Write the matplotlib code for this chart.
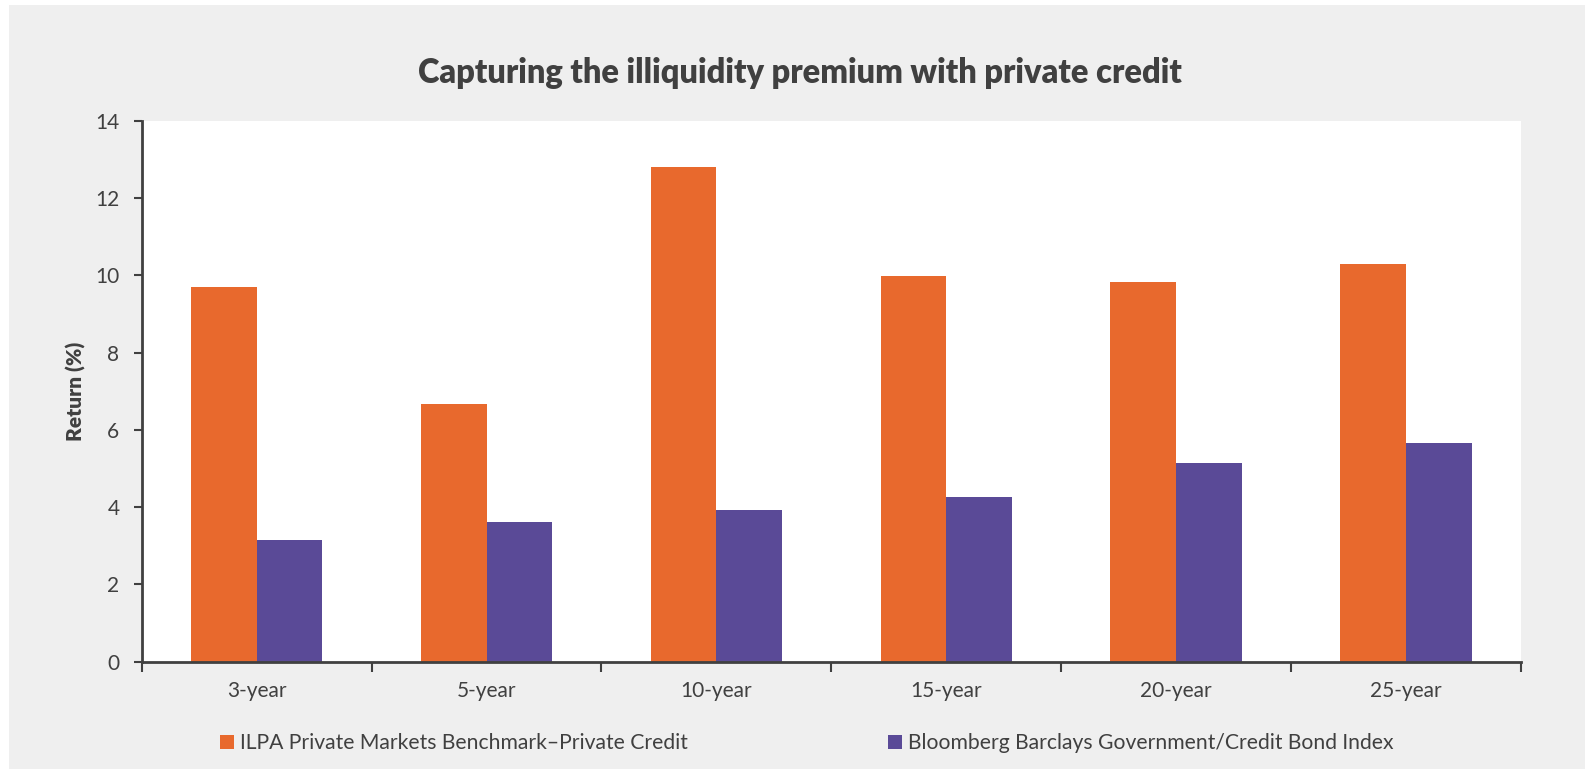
import matplotlib
matplotlib.use("Agg")
import matplotlib.pyplot as plt
import numpy as np
from matplotlib.patches import Rectangle, Patch

categories = ["3-year", "5-year", "10-year", "15-year", "20-year", "25-year"]
private_credit = [9.7, 6.68, 12.8, 9.97, 9.83, 10.3]
gov_credit_bond = [3.15, 3.61, 3.93, 4.27, 5.13, 5.65]
series_names = ["ILPA Private Markets Benchmark\u2013Private Credit",
                "Bloomberg Barclays Government/Credit Bond Index"]
y_ticks = [0, 2, 4, 6, 8, 10, 12, 14]

ORANGE = "#E8692D"
PURPLE = "#5A4A97"
TEXT = "#404040"
PANEL = "#EFEFEF"

plt.rcParams["font.family"] = ["Lato", "DejaVu Sans"]

W, H = 1585, 769
fig = plt.figure(figsize=(W / 100, H / 100), dpi=100)
fig.patch.set_facecolor("white")
# grey panel behind the chart, leaving a thin white margin top and left
fig.add_artist(Rectangle((9 / W, 0), 1 - 9 / W, 1 - 5 / H, transform=fig.transFigure,
                         facecolor=PANEL, edgecolor="none", zorder=-10))

ax = fig.add_axes([141.7 / W, 1 - 661.7 / H, (1521 - 141.7) / W, (661.7 - 120.7) / H])
ax.set_facecolor("white")

x = np.arange(len(categories))
bw = 0.286
ax.bar(x - bw / 2, private_credit, width=bw, color=ORANGE, edgecolor="none", zorder=2)
ax.bar(x + bw / 2, gov_credit_bond, width=bw, color=PURPLE, edgecolor="none", zorder=2)

ax.set_xlim(-0.5, len(categories) - 0.5)
ax.set_ylim(0, 14)
ax.set_yticks(y_ticks)
ax.set_yticklabels([str(v) for v in y_ticks], fontsize=15, color=TEXT)

# category labels centred, ticks on the boundaries between groups
ax.set_xticks(np.arange(len(categories) + 1) - 0.5)
ax.set_xticklabels([])
ax.set_xticks(x, minor=True)
ax.set_xticklabels(categories, minor=True, fontsize=15, color=TEXT)
ax.tick_params(axis="x", which="minor", length=0, pad=14)
ax.tick_params(axis="x", which="major", direction="out", length=7, width=1.5, color=TEXT)
ax.tick_params(axis="y", direction="out", length=6, width=1.5, color=TEXT, pad=10)

for s in ["top", "right"]:
    ax.spines[s].set_visible(False)
for s in ["left", "bottom"]:
    ax.spines[s].set_color(TEXT)
    ax.spines[s].set_linewidth(2)

ax.set_ylabel("Return (%)", fontsize=15, fontweight="heavy", color=TEXT, labelpad=7)

fig.text(800 / W, 1 - 73 / H, "Capturing the illiquidity premium with private credit",
         ha="center", va="center", fontsize=23.5, fontweight="heavy", color=TEXT)

# legend entries laid out left and right under the axis
handles = [Patch(facecolor=ORANGE, edgecolor="none"), Patch(facecolor=PURPLE, edgecolor="none")]
for h, name, x0 in [(handles[0], series_names[0], 220), (handles[1], series_names[1], 888)]:
    fig.legend([h], [name], loc="center left", bbox_to_anchor=(x0 / W, 1 - 743 / H),
               frameon=False, fontsize=15.2, borderpad=0, borderaxespad=0,
               handlelength=0.65, handleheight=0.65, handletextpad=0.3, labelcolor=TEXT)

fig.savefig("out.png", dpi=100, facecolor=fig.get_facecolor())
